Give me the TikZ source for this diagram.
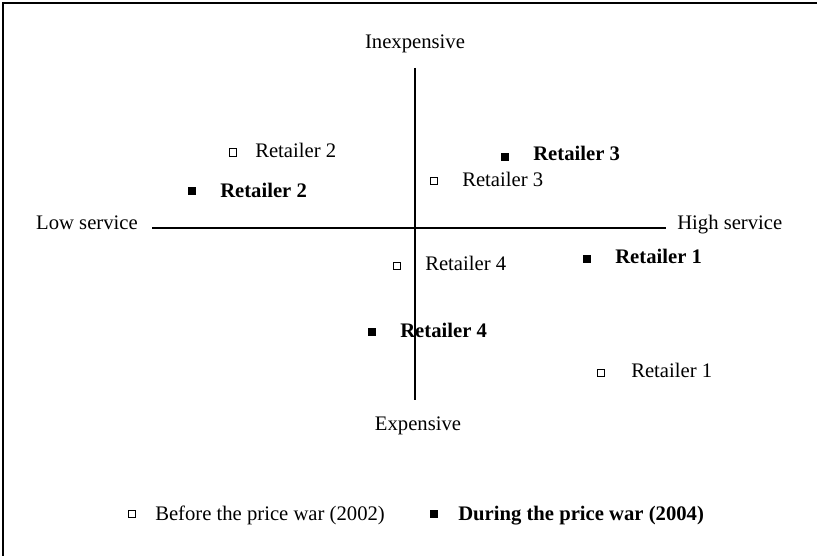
\documentclass[tikz,border=0pt]{standalone}
\usepackage{fontspec}
\setmainfont{Liberation Serif}
\usepackage{tikz}

\begin{document}
\begin{tikzpicture}[x=0.75pt,y=0.75pt,yscale=-1,xscale=1,
  font=\fontsize{15.5}{18}\selectfont,
  lbl/.style={anchor=base west,inner sep=0pt},
  blbl/.style={anchor=base west,inner sep=0pt,font=\fontsize{15.5}{18}\selectfont\bfseries},
  openmark/.style={draw,line width=0.5pt,minimum size=5.5pt,inner sep=0pt},
  fullmark/.style={fill,minimum size=6.5pt,inner sep=0pt}]
\useasboundingbox (0,0) rectangle (817,556);

%Frame
\draw [line width=1.4pt] (3,556) -- (3,3) -- (817,3) ;

%Axes
\coordinate (top) at (415,68);
\coordinate (bot) at (415,400);
\coordinate (lft) at (152,228);
\coordinate (rgt) at (666,228);
\draw [line width=1.1pt] (top) -- (bot) ;
\draw [line width=1.1pt] (lft) -- (rgt) ;

% Axis labels
\node (inexp) [anchor=base,inner sep=0pt] at (415,49) {Inexpensive};
\node (exp) [anchor=base,inner sep=0pt] at (418,430) {Expensive};
\node (lowsrv) [anchor=base east,inner sep=0pt] at (138,229) {Low service};
\node (highsrv) [lbl] at (677,229) {High service};

% Before the price war
\node (o2) [openmark] at (233,152.5) {};
\node (o2t) [lbl] at (255,157) {Retailer 2};
\node (o3) [openmark] at (434,181) {};
\node (o3t) [lbl] at (462,186) {Retailer 3};
\node (o4) [openmark] at (397,266) {};
\node (o4t) [lbl] at (425,270) {Retailer 4};
\node (o1) [openmark] at (601,372.5) {};
\node (o1t) [lbl] at (631,377) {Retailer 1};

% During the price war
\node (f2) [fullmark] at (192,191) {};
\node (f2t) [blbl] at (220,197) {Retailer 2};
\node (f3) [fullmark] at (505,157) {};
\node (f3t) [blbl] at (533,161) {Retailer 3};
\node (f1) [fullmark] at (587,259) {};
\node (f1t) [blbl] at (615,263) {Retailer 1};
\node (f4) [fullmark] at (372,332) {};
\node (f4t) [blbl] at (400,337) {Retailer 4};

% Legend
\node (legopen) [openmark] at (132,514) {};
\node (legopent) [lbl] at (155,520) {Before the price war (2002)};
\node (legfull) [fullmark] at (434,514) {};
\node (legfullt) [blbl] at (458,520) {During the price war (2004)};

\end{tikzpicture}
\end{document}
